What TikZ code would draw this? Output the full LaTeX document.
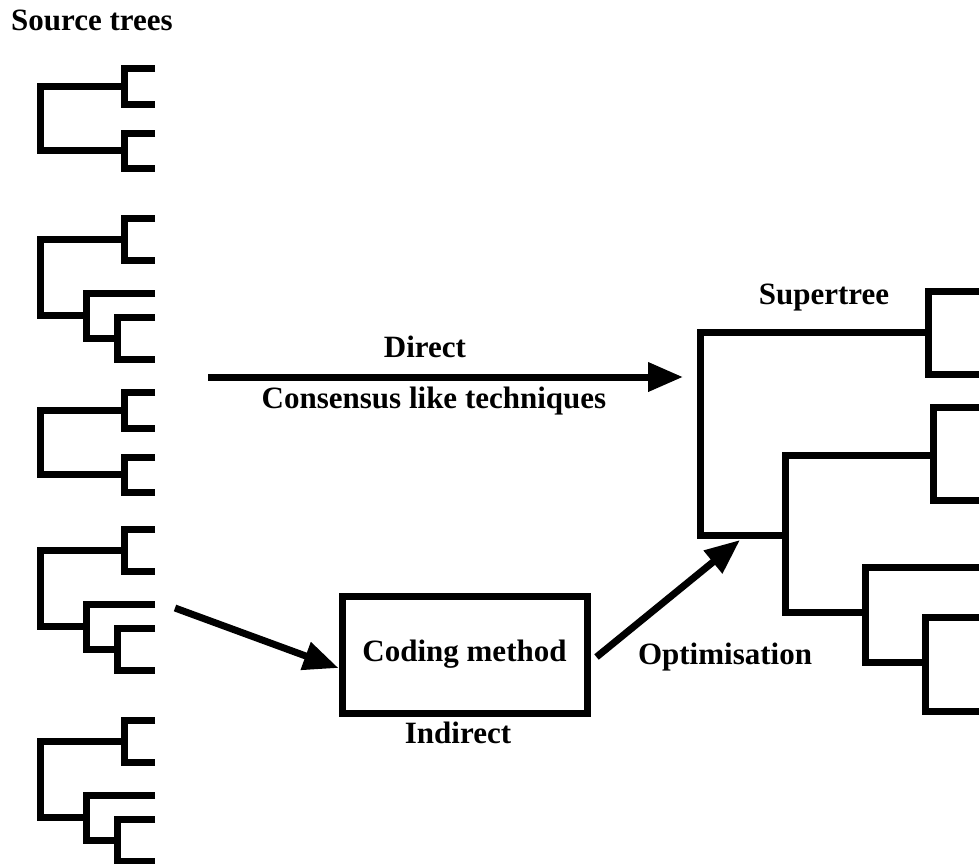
\documentclass[tikz,border=0pt]{standalone}
\usepackage{fontspec}
\setmainfont{Liberation Serif}
\usetikzlibrary{arrows.meta}
\begin{document}
\begin{tikzpicture}[x=1pt,y=-1pt,
  branch/.style={line width=7pt,line join=miter,line cap=butt},
  flow/.style={line width=7pt,-{Triangle[length=35pt,width=28pt]}},
  lbl/.style={font=\fontsize{31}{36}\selectfont\bfseries,inner sep=0pt,anchor=base},
  codebox/.style={draw,line width=7pt,minimum width=245pt,minimum height=117pt,inner sep=0pt,
    font=\fontsize{31}{36}\selectfont\bfseries},
  % two cherries joined at the root
  treeA/.pic={
    \draw[branch] (155,0) -| (124,36) -- (155,36);
    \draw[branch] (155,65) -| (124,100) -- (155,100);
    \draw[branch] (124,18) -| (40,82.5) -- (124,82.5);
  },
  % one cherry plus a nested three-leaf clade
  treeB/.pic={
    \draw[branch] (155,0) -| (124,42) -- (155,42);
    \draw[branch] (155,99) -| (117,141) -- (155,141);
    \draw[branch] (155,75) -| (86,120) -- (117,120);
    \draw[branch] (124,21) -| (40,97.5) -- (86,97.5);
  }]
\useasboundingbox (0,0) rectangle (979,863);

% source trees
\node[lbl,anchor=base west] (srcTitle) at (11,30) {Source trees};
\pic at (0,68)  {treeA};
\pic at (0,218) {treeB};
\pic at (0,392) {treeA};
\pic at (0,529) {treeB};
\pic at (0,720) {treeB};

% supertree
\node[lbl] (stTitle) at (824,304) {Supertree};
\draw[branch] (985,291) -| (928,374) -- (985,374);
\draw[branch] (928,332) -| (700,535) -- (785,535);
\draw[branch] (933,455) -| (785,612) -- (865,612);
\draw[branch] (985,407) -| (933,500) -- (985,500);
\draw[branch] (985,567) -| (865,662) -- (925,662);
\draw[branch] (985,617) -| (925,711) -- (985,711);

% direct route
\coordinate (srcDirect) at (208,377);
\coordinate (stDirect) at (683,377);
\draw[flow] (srcDirect) -- (stDirect);
\node[lbl] (direct) at (425,357) {Direct};
\node[lbl] (consensus) at (434,408) {Consensus like techniques};

% indirect route
\node[codebox] (cm) at (464.5,654.5) {Coding method};
\node[lbl] (indirect) at (458,743) {Indirect};
\coordinate (srcIndirect) at (175,608);
\coordinate (cmIn) at ([yshift=-13.5pt]cm.west);
\coordinate (cmOut) at ([xshift=6pt,yshift=-2.5pt]cm.east);
\coordinate (stIndirect) at (740,540);
\draw[flow] (srcIndirect) -- (cmIn);
\draw[flow] (cmOut) -- (stIndirect);
\node[lbl] (optim) at (725,664) {Optimisation};
\end{tikzpicture}
\end{document}
